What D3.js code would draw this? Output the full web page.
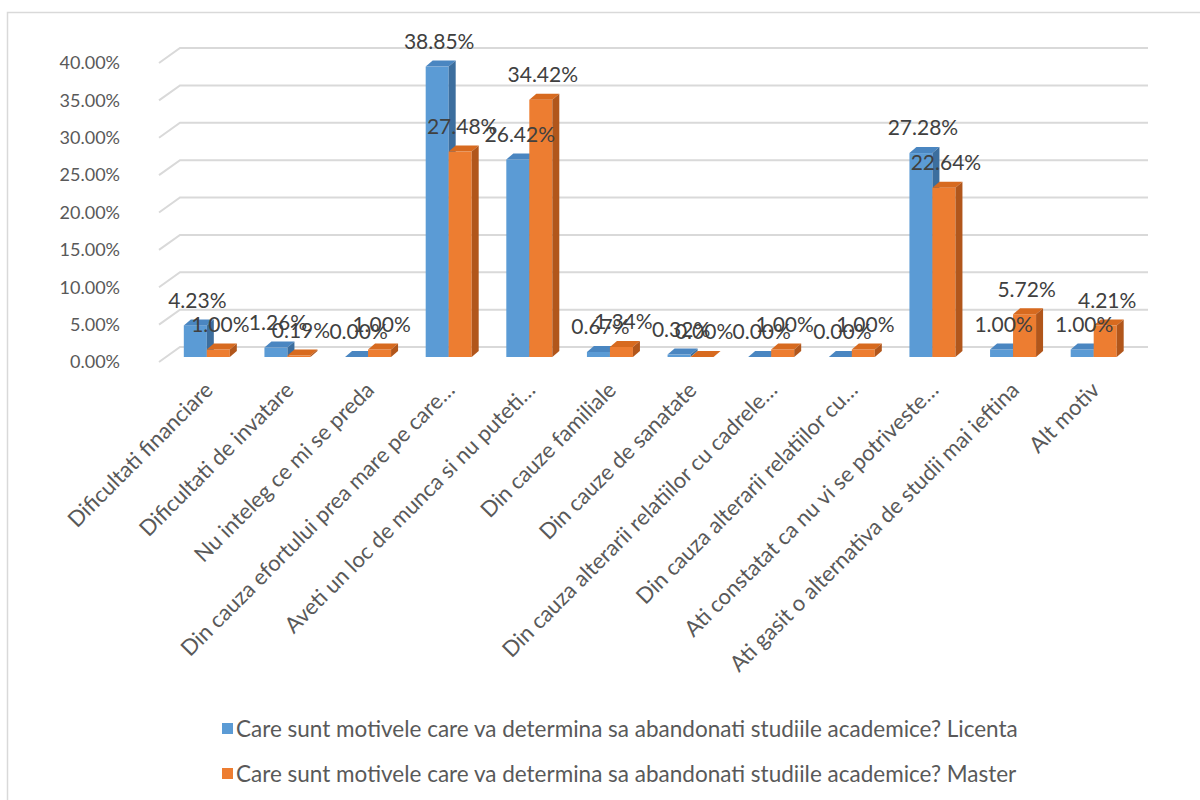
<!DOCTYPE html>
<html>
<head>
<meta charset="utf-8">
<script src="https://cdn.jsdelivr.net/npm/d3@7"></script>
<style>
  html, body { margin: 0; padding: 0; background: #fff; }
  svg { display: block; }
  text { font-family: Lato, "Open Sans", sans-serif; }
</style>
</head>
<body>
<svg id="chart" width="1200" height="800"></svg>
<script>
const categories = [
  "Dificultati financiare",
  "Dificultati de invatare",
  "Nu inteleg ce mi se preda",
  "Din cauza efortului prea mare pe care…",
  "Aveti un loc de munca si nu puteti…",
  "Din cauze familiale",
  "Din cauze de sanatate",
  "Din cauza alterarii relatiilor cu cadrele…",
  "Din cauza alterarii relatiilor cu…",
  "Ati constatat ca nu vi se potriveste…",
  "Ati gasit o alternativa de studii mai ieftina",
  "Alt motiv"
];
const licenta = [4.23, 1.26, 0.00, 38.85, 26.42, 0.67, 0.32, 0.00, 0.00, 27.28, 1.00, 1.00];
const master  = [1.00, 0.19, 1.00, 27.48, 34.42, 1.34, 0.00, 1.00, 1.00, 22.64, 5.72, 4.21];
const seriesNames = [
  "Care sunt motivele care va determina sa abandonati studiile academice? Licenta",
  "Care sunt motivele care va determina sa abandonati studiile academice? Master"
];
const yTicks = [0, 5, 10, 15, 20, 25, 30, 35, 40];

const svg = d3.select("#chart");

// outer frame
svg.append("rect").attr("x", 7.5).attr("y", 12.5).attr("width", 1200).attr("height", 800)
  .attr("fill", "none").attr("stroke", "#d9d9d9").attr("stroke-width", 1.5);

const y = d3.scaleLinear().domain([0, 40]).range([347, 48]);
const x = d3.scaleBand().domain(categories).range([166.5, 1134]).paddingInner(0).paddingOuter(0);
const barW = 23;
const xs = d3.scaleBand().domain([0, 1]).range([0, barW * 2]);
const floorDx = -21, floorDy = 15;   // depth of the floor (back wall -> front)
const barOffY = 10;                   // bar front plane offset from back wall
const dDx = 7, dDy = -6;              // bar depth

// gridlines (back wall + left floor diagonal)
svg.append("g").selectAll("path").data(yTicks).join("path")
  .attr("d", t => `M${180 + floorDx},${y(t) + floorDy} L180,${y(t)} L1148,${y(t)}`)
  .attr("fill", "none").attr("stroke", "#d9d9d9").attr("stroke-width", 2);

// y tick labels
svg.append("g").selectAll("text").data(yTicks).join("text")
  .attr("x", 120).attr("y", t => y(t) + floorDy)
  .attr("dy", "0.35em").attr("text-anchor", "end")
  .attr("fill", "#595959").style("font-size", "18px")
  .text(t => t.toFixed(2) + "%");

const series = [
  { values: licenta, front: "#5B9BD5", top: "#4A86C1", side: "#3C6E9E" },
  { values: master,  front: "#ED7D31", top: "#D76A1F", side: "#B1561B" }
];

const gBars = svg.append("g");
categories.forEach((c, i) => {
  series.forEach((s, si) => {
    const v = s.values[i];
    const xl = x(c) + x.bandwidth() / 2 - barW + xs(si);
    const yt = y(v) + barOffY;
    const yb = y(0) + barOffY;
    const g = gBars.append("g");
    g.append("rect").attr("x", xl).attr("y", yt).attr("width", barW).attr("height", yb - yt)
      .attr("fill", s.front);
    g.append("path")
      .attr("d", `M${xl},${yt} L${xl + dDx},${yt + dDy} L${xl + barW + dDx},${yt + dDy} L${xl + barW},${yt} Z`)
      .attr("fill", s.top);
    g.append("path")
      .attr("d", `M${xl + barW},${yt} L${xl + barW + dDx},${yt + dDy} L${xl + barW + dDx},${yb + dDy} L${xl + barW},${yb} Z`)
      .attr("fill", s.side);
  });
});

// data labels
const gLab = svg.append("g");
categories.forEach((c, i) => {
  series.forEach((s, si) => {
    const v = s.values[i];
    const cx = x(c) + x.bandwidth() / 2 - barW + xs(si) + barW / 2 + 2;
    gLab.append("text")
      .attr("x", cx).attr("y", y(v) + barOffY - 25)
      .attr("dy", "0.35em").attr("text-anchor", "middle")
      .attr("fill", "#404040").style("font-size", "21px")
      .text(v.toFixed(2) + "%");
  });
});

// category labels
svg.append("g").selectAll("text").data(categories).join("text")
  .attr("transform", c => `translate(${x(c) + x.bandwidth() / 2 + 2},${386}) rotate(-45)`)
  .attr("text-anchor", "end").attr("dy", "0.35em")
  .attr("fill", "#595959").style("font-size", "22px")
  .text(c => c);

// legend
const lg = svg.append("g").selectAll("g").data(seriesNames).join("g")
  .attr("transform", (d, i) => `translate(222,${729 + i * 45})`);
lg.append("rect").attr("x", 0).attr("y", -6).attr("width", 11).attr("height", 11)
  .attr("fill", (d, i) => series[i].front);
lg.append("text").attr("x", 14).attr("y", 0).attr("dy", "0.35em")
  .attr("fill", "#595959").style("font-size", "22.5px")
  .text(d => d);
</script>
</body>
</html>
